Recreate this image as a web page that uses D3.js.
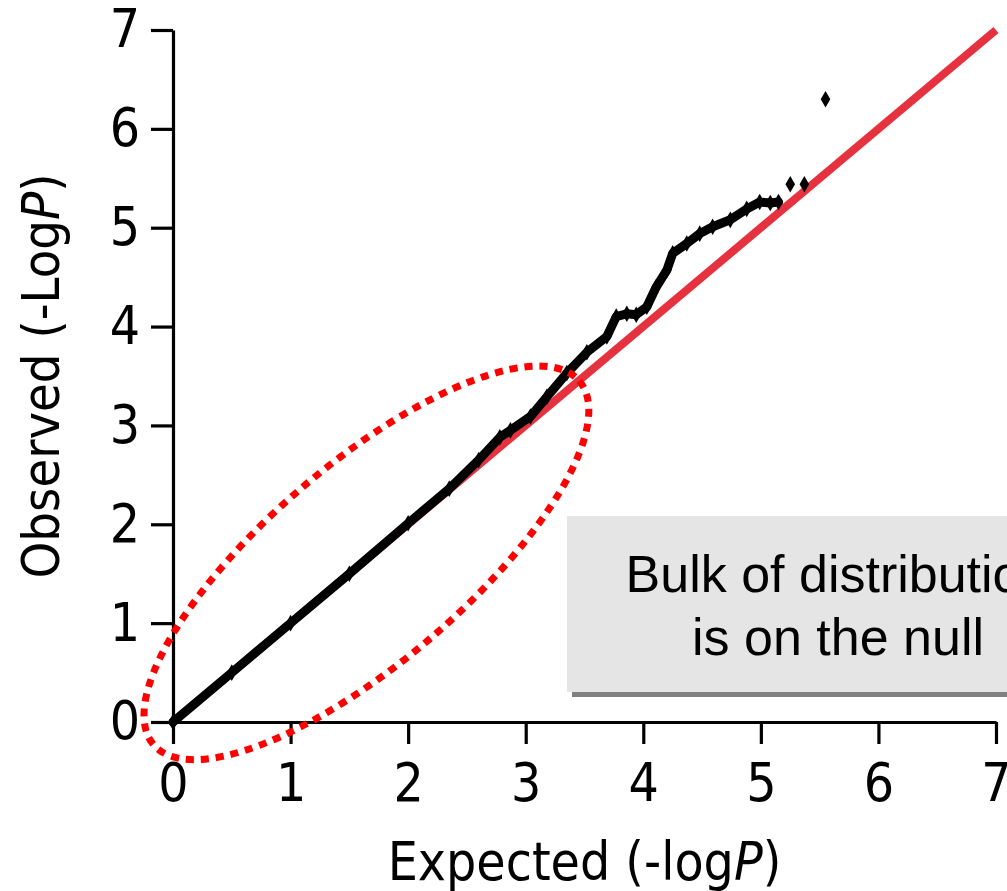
<!DOCTYPE html>
<html>
<head>
<meta charset="utf-8">
<script src="https://cdn.jsdelivr.net/npm/d3@7"></script>
<style>
  html, body { margin: 0; padding: 0; background: #ffffff; overflow: hidden; }
  svg { display: block; }
  .axis text { font-family: "DejaVu Sans Condensed", "DejaVu Sans", sans-serif; font-stretch: condensed; fill: #000; }
  .title { font-family: "DejaVu Sans Condensed", "DejaVu Sans", sans-serif; font-stretch: condensed; fill: #000; }
  .note { font-family: "Liberation Sans", Arial, sans-serif; fill: #000; }
</style>
</head>
<body>
<svg id="chart" width="1007" height="891"></svg>
<script>
// Q-Q plot of observed vs expected -log10(P)
const tickValues = [0, 1, 2, 3, 4, 5, 6, 7];

// dense body of the distribution (expected, observed)
const expected = [0, 0.5, 1.0, 1.5, 2.0, 2.35, 2.6, 2.78, 2.87, 3.04, 3.18, 3.35, 3.52, 3.69,
                  3.77, 3.86, 3.94, 4.03, 4.11, 4.2, 4.25, 4.37, 4.48, 4.59, 4.74, 4.88, 4.99, 5.08, 5.15];
const observed = [0, 0.5, 1.0, 1.5, 2.01, 2.36, 2.65, 2.88, 2.95, 3.09, 3.29, 3.53, 3.74, 3.9,
                  4.1, 4.13, 4.12, 4.2, 4.4, 4.57, 4.74, 4.84, 4.94, 5.01, 5.08, 5.19, 5.26, 5.25, 5.26];

// isolated top hits
const tailExpected = [5.25, 5.37, 5.55];
const tailObserved = [5.44, 5.44, 6.30];

// y = x null line
const nullLine = [0, 7];

// highlighted region around the bulk of the distribution
const bulkCenter = [1.645, 1.61];

const noteLines = ["Bulk of distribution", "is on the null"];

const svg = d3.select("#chart");

const x = d3.scaleLinear().domain([0, 7]).range([173, 996]);
const y = d3.scaleLinear().domain([0, 7]).range([722, 30]);

// axes
svg.append("g")
  .attr("class", "axis")
  .attr("transform", `translate(0,${y(0)})`)
  .call(d3.axisBottom(x).tickValues(tickValues).tickFormat(d3.format("d"))
        .tickSize(22).tickSizeOuter(0).tickPadding(19));

svg.append("g")
  .attr("class", "axis")
  .attr("transform", `translate(${x(0)},0)`)
  .call(d3.axisLeft(y).tickValues(tickValues).tickFormat(d3.format("d"))
        .tickSize(22).tickSizeOuter(0).tickPadding(11));

svg.selectAll(".axis path, .axis line")
  .attr("stroke", "#000").attr("stroke-width", 3.2);
svg.selectAll(".axis text").attr("font-size", 53);

// axis titles
const xt = svg.append("text").attr("class", "title")
  .attr("x", (x(0) + x(7)) / 2).attr("y", 880)
  .attr("text-anchor", "middle").attr("font-size", 53);
xt.append("tspan").text("Expected (-log");
xt.append("tspan").attr("font-style", "italic").text("P");
xt.append("tspan").text(")");

const yt = svg.append("text").attr("class", "title")
  .attr("transform", `translate(59,${(y(0) + y(7)) / 2}) rotate(-90)`)
  .attr("text-anchor", "middle").attr("font-size", 52);
yt.append("tspan").text("Observed (-Log");
yt.append("tspan").attr("font-style", "italic").text("P");
yt.append("tspan").text(")");

// null line
svg.append("line")
  .attr("x1", x(nullLine[0])).attr("y1", y(nullLine[0]))
  .attr("x2", x(nullLine[1])).attr("y2", y(nullLine[1]))
  .attr("stroke", "#e6323f").attr("stroke-width", 8);

// observed points: dense body drawn as a thick trace
const body = expected.map((e, i) => [e, observed[i]]);
svg.append("path")
  .datum(body)
  .attr("d", d3.line().x(d => x(d[0])).y(d => y(d[1])).curve(d3.curveLinear))
  .attr("fill", "none").attr("stroke", "#000")
  .attr("stroke-width", 9).attr("stroke-linejoin", "round").attr("stroke-linecap", "round");

const diamond = d3.symbol().type(d3.symbolDiamond).size(80);
const allPts = body.concat(tailExpected.map((e, i) => [e, tailObserved[i]]));
svg.append("g").selectAll("path")
  .data(allPts)
  .join("path")
  .attr("transform", d => `translate(${x(d[0])},${y(d[1])})`)
  .attr("d", diamond)
  .attr("fill", "#000");

// dotted ellipse around the bulk
svg.append("ellipse")
  .attr("transform", `translate(${x(bulkCenter[0])},${y(bulkCenter[1])}) rotate(-40.5)`)
  .attr("rx", 280).attr("ry", 99)
  .attr("fill", "none").attr("stroke", "#ff0000")
  .attr("stroke-width", 7).attr("stroke-dasharray", "8 7");

// annotation box with drop shadow
const box = svg.append("g");
box.append("rect").attr("x", 572).attr("y", 521).attr("width", 500).attr("height", 176).attr("fill", "#808080");
box.append("rect").attr("x", 567).attr("y", 516).attr("width", 500).attr("height", 176).attr("fill", "#e5e5e5");
box.selectAll("text")
  .data(noteLines)
  .join("text")
  .attr("class", "note")
  .attr("x", 838)
  .attr("y", (d, i) => 592 + i * 63)
  .attr("text-anchor", "middle")
  .attr("font-size", 52)
  .text(d => d);
</script>
</body>
</html>
